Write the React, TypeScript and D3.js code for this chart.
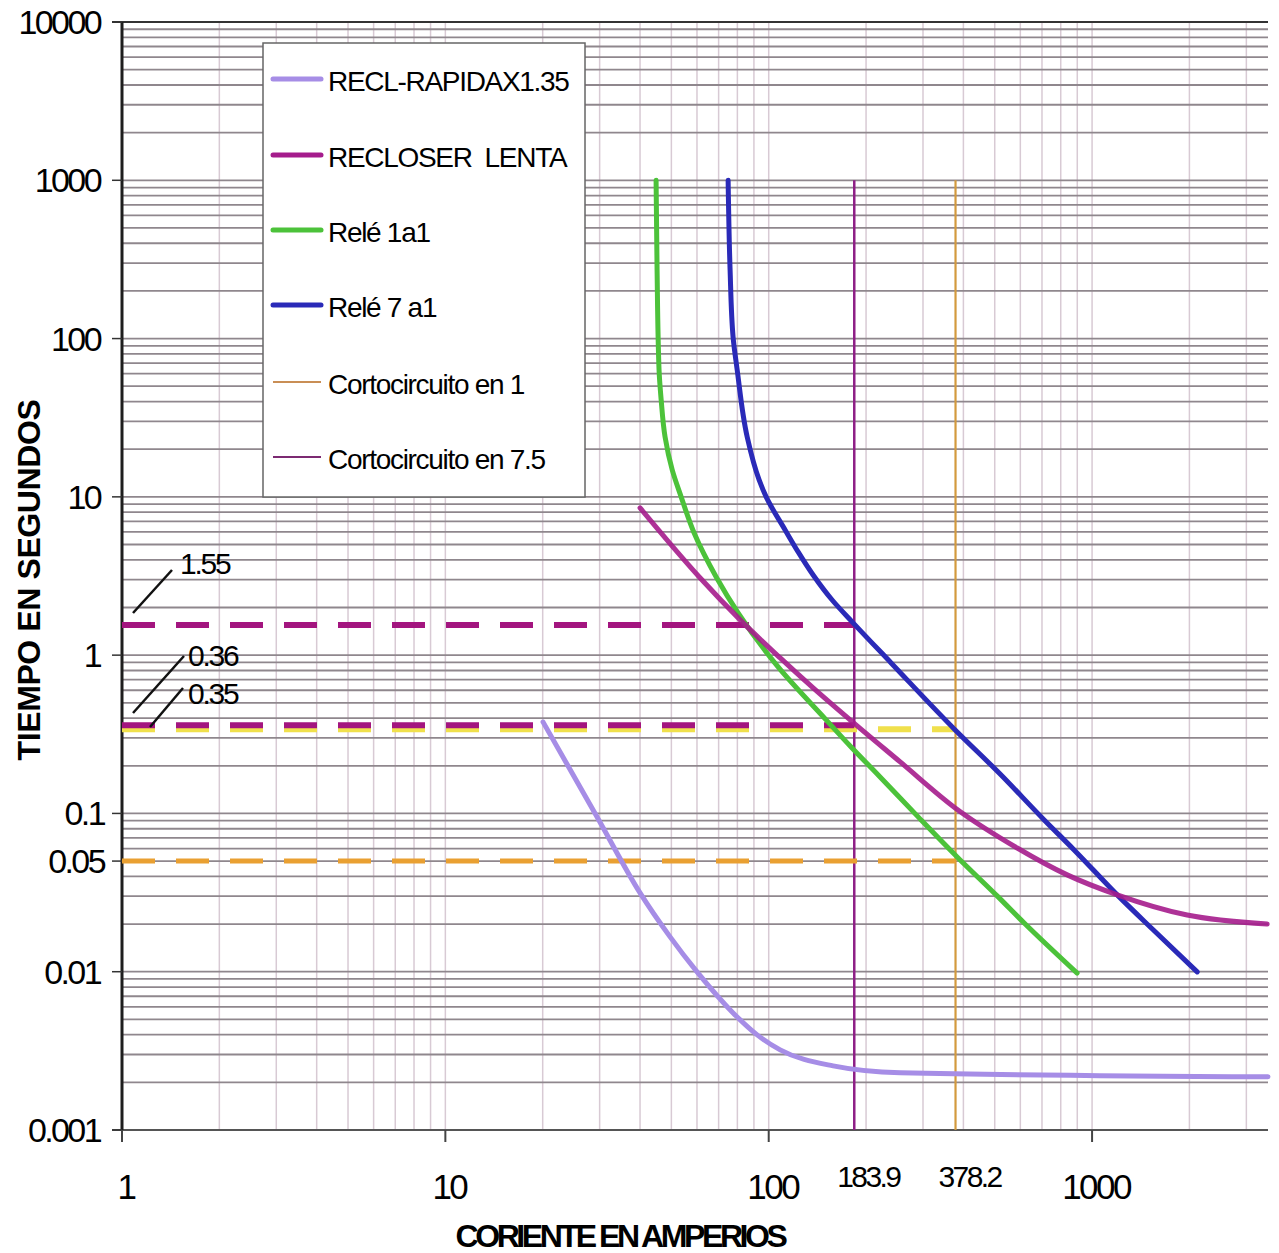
import React from "react";
import * as d3 from "d3";

const W = 1279;
const H = 1253;

// ---- Data ----
const rapidaI = [20.05, 29.46, 40.0, 49.55, 60.03, 77.6, 92.1, 108.5, 158.2, 255, 3500];
const rapidaT = [0.378, 0.095, 0.0315, 0.0166, 0.00997, 0.00549, 0.00399, 0.00321, 0.00254, 0.0023, 0.00217];

const lentaI = [40.0, 61.4, 81.6, 108.5, 137.2, 178.5, 255, 377.3, 586.7, 837.5, 1196, 1968, 3480];
const lentaT = [8.51, 3.07, 1.67, 0.96, 0.621, 0.39, 0.2115, 0.1083, 0.0605, 0.0409, 0.0306, 0.0228, 0.02];

const rele1I = [44.84, 45.16, 45.8, 46.5, 47.8, 50.3, 53.6, 58.8, 68.8, 80.4, 106.9, 150.5, 179.8, 221, 289.8, 382.6, 512.3, 616.6, 899];
const rele1T = [1000, 271, 63.3, 40.9, 23.9, 14.8, 10.0, 5.91, 3.12, 1.85, 0.842, 0.39, 0.263, 0.17, 0.0951, 0.0531, 0.0297, 0.0203, 0.0098];

const rele7I = [74.9, 75.96, 77.6, 79.9, 85.8, 93.4, 98.2, 112.4, 123.3, 137.2, 157.1, 182.4, 239.1, 377.3, 515.9, 711, 880, 1213, 1545, 2114];
const rele7T = [1000, 271, 102, 63.3, 23.9, 12.8, 9.99, 6.18, 4.49, 3.21, 2.23, 1.6, 0.893, 0.337, 0.18, 0.091, 0.0588, 0.0297, 0.0184, 0.00997];

const corto1 = 378.2;
const corto75 = 183.9;

const seriesNames = [
  "RECL-RAPIDAX1.35",
  "RECLOSER  LENTA",
  "Relé 1a1",
  "Relé 7 a1",
  "Cortocircuito en 1",
  "Cortocircuito en 7.5",
];
const seriesColors = ["#a68de6", "#a51c8c", "#4cc23a", "#2a2ab8", "#c98e55", "#7c2a72"];

// dashed reference times and the current where each ends
const refTimes = [1.55, 0.36, 0.35, 0.05];
const refEnds = [corto75, corto75, corto1, corto1];
const refColors = ["#a3157f", "#a3157f", "#f0e04c", "#e9a032"];

const yTicks = [10000, 1000, 100, 10, 1, 0.1, 0.05, 0.01, 0.001];
const yTickLabels = ["10000", "1000", "100", "10", "1", "0.1", "0.05", "0.01", "0.001"];
const xTicks = [1, 10, 100, 1000];
const xTickLabels = ["1", "10", "100", "1000"];
const xMarks = [corto75, corto1];
const xMarkLabels = ["183.9", "378.2"];

const annotValues = ["1.55", "0.36", "0.35"];

const xTitle = "CORIENTE EN AMPERIOS";
const yTitle = "TIEMPO EN SEGUNDOS";

// ---- Layout ----
const left = 122;
const right = 1268;
const top = 22;
const bottom = 1130;

export default function App() {
  const x = d3.scaleLog().domain([1, 3500]).range([left, right]);
  const y = d3.scaleLog().domain([0.001, 10000]).range([bottom, top]);

  const lineX = d3
    .line<[number, number]>()
    .x((d) => x(d[0]))
    .y((d) => y(d[1]))
    .curve(d3.curveMonotoneX);
  const lineY = d3
    .line<[number, number]>()
    .x((d) => x(d[0]))
    .y((d) => y(d[1]))
    .curve(d3.curveMonotoneY);

  const zip = (a: number[], b: number[]) => a.map((v, i) => [v, b[i]] as [number, number]);

  // grid values
  const hGrid: number[] = [];
  for (let e = -3; e <= 3; e++) for (let m = 1; m <= 9; m++) hGrid.push(m * Math.pow(10, e));
  hGrid.push(10000);
  const vGrid: number[] = [];
  for (let e = 0; e <= 3; e++)
    for (let m = 1; m <= 9; m++) {
      const v = m * Math.pow(10, e);
      if (v <= 3500) vGrid.push(v);
    }

  const font = "'Liberation Sans', Arial, sans-serif";

  const curves = [
    { p: lineX(zip(rapidaI, rapidaT)), c: seriesColors[0] },
    { p: lineY(zip(rele1I, rele1T)), c: seriesColors[2] },
    { p: lineY(zip(rele7I, rele7T)), c: seriesColors[3] },
    { p: lineX(zip(lentaI, lentaT)), c: seriesColors[1] },
  ];

  const legendY = [79, 155, 230, 305, 382, 457];

  return (
    <svg width={W} height={H} style={{ display: "block", position: "absolute", left: 0, top: 0, background: "#fff" }}>
      <rect x={0} y={0} width={W} height={H} fill="#fff" />
      {/* vertical grid */}
      {vGrid.map((v, i) => (
        <line key={"vg" + i} x1={x(v)} x2={x(v)} y1={top} y2={bottom} stroke="#d8cad4" strokeWidth={1.5} />
      ))}
      {/* horizontal grid */}
      {hGrid.map((v, i) => (
        <line key={"hg" + i} x1={left} x2={right} y1={y(v)} y2={y(v)} stroke="#8f878d" strokeWidth={1.8} />
      ))}
      {/* top border */}
      <line x1={left - 10} x2={right} y1={y(10000)} y2={y(10000)} stroke="#333" strokeWidth={2.2} />
      {/* bottom axis */}
      <line x1={left - 10} x2={right} y1={bottom} y2={bottom} stroke="#555" strokeWidth={2} />
      {/* y axis */}
      <line x1={left} x2={left} y1={top} y2={bottom} stroke="#1e1e1e" strokeWidth={3} />
      {/* y ticks */}
      {yTicks.map((v, i) => (
        <g key={"yt" + i}>
          <line x1={left - 10} x2={left} y1={y(v)} y2={y(v)} stroke="#333" strokeWidth={1.5} />
          <text
            x={v === 0.05 || v === 0.1 ? 104 : 100}
            y={y(v) + 12}
            textAnchor="end"
            fontFamily={font}
            fontSize={34}
            letterSpacing={-2.6}
            fill="#000"
          >
            {yTickLabels[i]}
          </text>
        </g>
      ))}
      {/* x ticks */}
      {xTicks.map((v, i) => (
        <g key={"xt" + i}>
          <line x1={x(v)} x2={x(v)} y1={bottom} y2={bottom + 12} stroke="#444" strokeWidth={2} />
          <text x={x(v) + 4} y={1199} textAnchor="middle" fontFamily={font} fontSize={35} letterSpacing={-2.5} fill="#000">
            {xTickLabels[i]}
          </text>
        </g>
      ))}
      {xMarks.map((v, i) => (
        <text key={"xm" + i} x={x(v) + 14} y={1187} textAnchor="middle" fontFamily={font} fontSize={30} letterSpacing={-2.6} fill="#000">
          {xMarkLabels[i]}
        </text>
      ))}

      {/* short circuit vertical lines */}
      <line x1={x(corto75)} x2={x(corto75)} y1={y(1000)} y2={bottom} stroke="#8e1f86" strokeWidth={2.5} />
      <line x1={x(corto1)} x2={x(corto1)} y1={y(1000)} y2={bottom} stroke="#d39a3e" strokeWidth={2.2} />

      {/* dashed reference lines (yellow first, under magenta) */}
      {[2, 3, 0, 1].map((k) => (
        <line
          key={"rf" + k}
          x1={left}
          x2={x(refEnds[k])}
          y1={y(refTimes[k]) + (k === 2 ? 2 : 0)}
          y2={y(refTimes[k]) + (k === 2 ? 2 : 0)}
          stroke={refColors[k]}
          strokeWidth={k === 3 ? 5 : 6}
          strokeDasharray="33 21"
        />
      ))}

      {/* curves */}
      {curves.map((c, i) => (
        <path key={"cv" + i} d={c.p || ""} fill="none" stroke={c.c} strokeWidth={5} strokeLinecap="round" strokeLinejoin="round" opacity={i === 3 ? 0.9 : 1} />
      ))}

      {/* annotations */}
      <line x1={133} y1={613} x2={172} y2={570} stroke="#111" strokeWidth={2.5} />
      <line x1={133} y1={713} x2={184} y2={656} stroke="#111" strokeWidth={2.5} />
      <line x1={150} y1={727} x2={183} y2={688} stroke="#111" strokeWidth={2.5} />
      {annotValues.map((t, i) => (
        <text
          key={"an" + i}
          x={[180, 188, 188][i]}
          y={[574, 666, 704][i]}
          fontFamily={font}
          fontSize={30}
          letterSpacing={-2.2}
          fill="#000"
        >
          {t}
        </text>
      ))}

      {/* legend */}
      <rect x={263} y={43} width={322} height={454} fill="#fff" stroke="#666" strokeWidth={1.5} />
      {seriesNames.map((n, i) => (
        <g key={"lg" + i}>
          <line
            x1={273}
            x2={321}
            y1={legendY[i]}
            y2={legendY[i]}
            stroke={seriesColors[i]}
            strokeWidth={i < 4 ? 5 : 2}
            strokeLinecap={i < 4 ? "round" : "butt"}
          />
          <text x={328} y={legendY[i] + 12} fontFamily={font} fontSize={28} letterSpacing={-1.3} fill="#000" style={{ whiteSpace: "pre" }}>
            {n}
          </text>
        </g>
      ))}

      {/* axis titles */}
      <text x={620} y={1247} textAnchor="middle" fontFamily={font} fontWeight="bold" fontSize={32} letterSpacing={-3.4} fill="#000">
        {xTitle}
      </text>
      <text
        transform={`translate(40,580) rotate(-90)`}
        textAnchor="middle"
        fontFamily={font}
        fontWeight="bold"
        fontSize={32}
        letterSpacing={-0.4}
        fill="#000"
      >
        {yTitle}
      </text>
    </svg>
  );
}
